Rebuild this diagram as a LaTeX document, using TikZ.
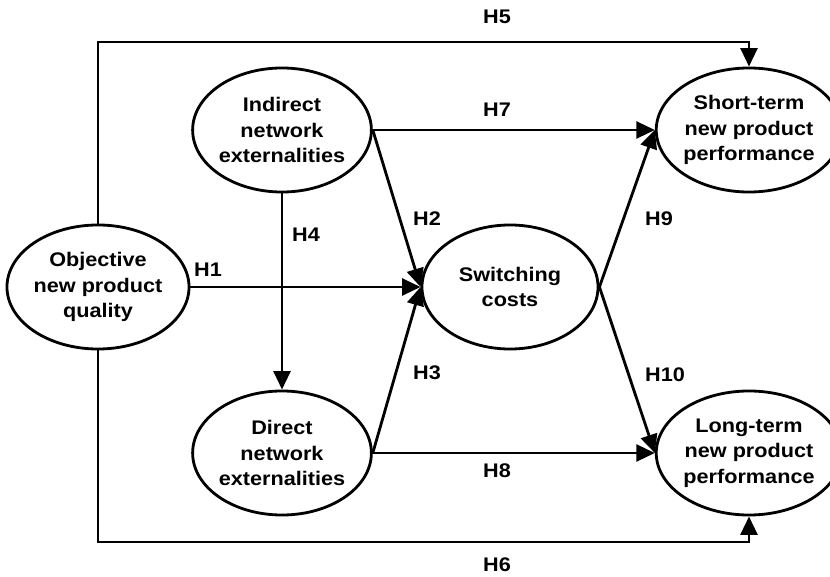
\documentclass[tikz,border=0pt]{standalone}
\usepackage{fontspec}
\setmainfont{Liberation Sans}[FakeStretch=1.1]
\usetikzlibrary{shapes.geometric,arrows.meta}

\begin{document}
\begin{tikzpicture}[x=0.025cm,y=-0.025cm,
        var/.style={draw,ellipse,line width=2pt,inner sep=0pt,minimum width=4.4cm,minimum height=3.1cm,align=center,font=\fontsize{14}{18}\selectfont\bfseries},
        hyp/.style={font=\fontsize{14}{16}\selectfont\bfseries},
        link/.style={line width=2pt,-{Triangle[length=4.6mm,width=4.2mm]}}]
    \useasboundingbox (0,0) rectangle (830,577);
    % constructs
    \node[var] (obj) at (98,287) {Objective\\new product\\quality};
    \node[var] (ind) at (282,130) {Indirect\\network\\externalities};
    \node[var] (dir) at (282,453) {Direct\\network\\externalities};
    \node[var] (sw) at (510,287) {Switching\\costs};
    \node[var,minimum width=4.05cm] (st) at (749,130) {Short-term\\new product\\performance};
    \node[var,minimum width=4.05cm] (lt) at (749,453) {Long-term\\new product\\performance};
    \coordinate (top) at (98,42);
    \coordinate (bot) at (98,542);
    % hypotheses
    \draw[link] (obj.north) -- (top) -| (st.north);
    \draw[link] (obj.south) -- (bot) -| (lt.south);
    \draw[link] (ind.east) -- (st.west);
    \draw[link] (dir.east) -- (lt.west);
    \draw[link] (ind.south) -- (dir.north);
    \foreach \a in {obj,ind,dir}{
        \draw[link] (\a.east) -- (sw.west);
    }
    \foreach \b in {st,lt}{
        \draw[link] (sw.east) -- (\b.west);
    }
    \node[hyp] (h1) at (208,270) {H1};
    \node[hyp] (h2) at (427,219) {H2};
    \node[hyp] (h3) at (427,373) {H3};
    \node[hyp] (h4) at (306,235) {H4};
    \node[hyp] (h5) at (497,17) {H5};
    \node[hyp] (h6) at (497,565) {H6};
    \node[hyp] (h7) at (497,110) {H7};
    \node[hyp] (h8) at (497,471) {H8};
    \node[hyp] (h9) at (659,219) {H9};
    \node[hyp] (h10) at (665,375) {H10};
\end{tikzpicture}
\end{document}
